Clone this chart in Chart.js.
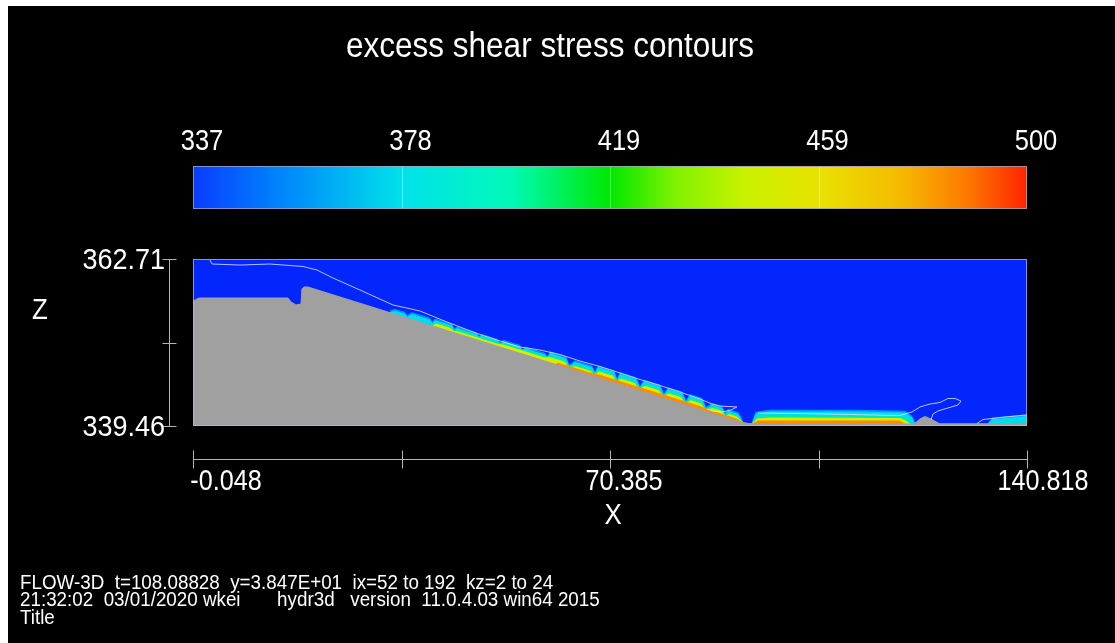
<!DOCTYPE html>
<html>
<head>
<meta charset="utf-8">
<title>excess shear stress contours</title>
<script src="https://cdn.jsdelivr.net/npm/chart.js@4.4.1/dist/chart.umd.min.js"></script>
<style>
  html, body { margin: 0; padding: 0; background: #fff; }
  body { padding: 6px 0 0 8px; width: 1115px; height: 643px; box-sizing: border-box; overflow: hidden; }
  #wrap { width: 1107px; height: 637px; background: #000; }
  canvas { display: block; }
</style>
</head>
<body>
<div id="wrap"><canvas id="chart" width="1107" height="637"></canvas></div>
<script>
// Axis ranges and tick labels
const xRange = [-0.048, 140.818];
const zRange = [339.46, 362.71];
const xTicks = [-0.048, 35.1685, 70.385, 105.6015, 140.818];
const xTickLabels = ["-0.048", "", "70.385", "", "140.818"];
const zTicks = [339.46, 351.085, 362.71];
const zTickLabels = ["339.46", "", "362.71"];
const cbarRange = [337, 500];
const cbarTicks = [337, 377.75, 418.5, 459.25, 500];
const cbarLabels = ["337", "378", "419", "459", "500"];

// Bed profile (solid obstacle)
const bedX = [-0.048, -0.048, 0.97, 16.00, 16.50, 17.35, 18.19, 18.36, 18.70, 19.38, 92.85, 93.52, 94.37, 121.73, 122.74, 123.58, 124.60, 126.12, 140.82];
const bedZ = [339.46, 356.86, 357.28, 357.28, 356.72, 356.31, 356.44, 358.53, 358.81, 358.81, 339.88, 339.60, 339.74, 339.74, 340.43, 340.78, 340.43, 339.74, 339.74];

// Contour band edges along the spillway face and tailwater bed
const cyanX = [33.23, 34.07, 35.76, 36.10, 36.94, 39.98, 40.32, 40.83, 43.70, 44.04, 44.54, 47.92, 48.26, 48.60, 51.47, 51.81, 52.31, 55.18, 55.52, 56.03, 59.41, 59.74, 60.25, 62.95, 63.46, 64.47, 67.34, 67.85, 68.36, 71.06, 71.57, 72.07, 74.77, 75.45, 76.12, 78.83, 79.50, 80.18, 82.55, 83.22, 83.89, 85.92, 86.60, 87.61, 89.30, 89.81, 90.31, 92.00, 92.51, 92.85, 93.36, 94.37, 95.04, 97.41, 110.92, 120.21, 121.39, 121.90, 134.23, 134.90, 140.82];
// ~340-355 (light blue fringe)
const fringeZ = [355.50, 355.69, 355.26, 354.82, 355.23, 354.45, 353.87, 354.37, 353.63, 352.92, 353.27, 352.41, 351.82, 352.23, 351.49, 350.92, 351.40, 350.67, 349.96, 350.46, 349.58, 348.87, 349.79, 349.08, 347.91, 348.55, 347.81, 346.84, 347.83, 347.13, 345.89, 346.88, 346.18, 344.90, 345.84, 345.14, 343.86, 344.79, 344.18, 342.90, 343.83, 343.30, 342.02, 342.59, 342.16, 341.19, 341.76, 341.32, 340.63, 339.88, 339.60, 339.74, 341.38, 341.66, 341.66, 341.52, 340.82, 339.74, 339.74, 340.55, 341.03];
// ~360-390
const cyanZ = [355.25, 355.44, 355.01, 354.57, 354.98, 354.20, 353.62, 354.12, 353.38, 352.67, 353.02, 352.16, 351.57, 351.98, 351.24, 350.67, 351.15, 350.42, 349.71, 350.21, 349.33, 348.62, 349.54, 348.83, 347.66, 348.30, 347.56, 346.59, 347.58, 346.88, 345.64, 346.63, 345.93, 344.65, 345.59, 344.89, 343.61, 344.54, 343.93, 342.65, 343.58, 343.05, 341.77, 342.34, 341.91, 340.94, 341.51, 341.07, 340.38, 339.88, 339.60, 339.74, 341.13, 341.41, 341.41, 341.27, 340.57, 339.74, 339.74, 340.30, 340.78];

const yellowX = [40.49, 41.00, 43.53, 43.87, 44.71, 47.75, 48.76, 51.30, 52.48, 55.01, 56.19, 59.24, 60.42, 62.78, 63.29, 64.64, 67.17, 67.68, 68.53, 70.89, 71.40, 72.24, 74.61, 75.28, 76.29, 78.66, 79.33, 80.35, 82.38, 83.05, 84.06, 85.75, 86.43, 87.78, 89.13, 89.98, 90.48, 91.83, 92.85, 94.37, 95.21, 97.41, 119.36, 120.38, 121.05];
// ~400-420
const greenZ = [353.61, 353.86, 353.21, 352.84, 352.76, 351.98, 351.72, 351.06, 350.90, 350.24, 349.95, 349.15, 349.14, 348.53, 347.83, 347.90, 347.25, 346.70, 347.18, 346.57, 345.74, 346.18, 345.56, 344.74, 345.19, 344.57, 343.70, 344.14, 343.61, 342.75, 343.18, 342.75, 341.87, 342.08, 341.73, 340.95, 341.25, 340.90, 339.88, 339.74, 340.63, 340.77, 340.70, 340.36, 339.74];
// ~430-460
const yellowZ = [353.41, 353.66, 353.01, 352.64, 352.56, 351.78, 351.52, 350.86, 350.70, 350.04, 349.75, 348.95, 348.94, 348.33, 347.63, 347.70, 347.05, 346.50, 346.98, 346.37, 345.54, 345.98, 345.36, 344.54, 344.99, 344.37, 343.50, 343.94, 343.41, 342.55, 342.98, 342.55, 341.67, 341.88, 341.53, 340.75, 341.05, 340.70, 339.88, 339.74, 340.43, 340.57, 340.50, 340.16, 339.74];

// ~470-500
const orangeX = [61.26, 61.60, 62.78, 64.81, 67.00, 68.69, 70.72, 72.41, 74.44, 76.46, 78.49, 80.52, 82.21, 84.23, 85.58, 87.95, 88.96, 90.65, 91.66, 92.85, 94.37, 95.38, 119.36, 120.21];
const orangeZ = [348.02, 348.20, 347.91, 347.38, 346.81, 346.52, 346.00, 345.56, 345.04, 344.53, 344.00, 343.47, 343.04, 342.52, 342.17, 341.42, 341.16, 340.73, 340.46, 339.88, 339.74, 340.16, 340.16, 339.74];

// Free-surface outline pieces
const surfaceX = [2.82, 3.16, 7.89, 12.96, 18.53, 20.89, 23.60, 28.16, 33.73, 38.29, 42.85, 47.92, 51.30, 55.18, 58.56, 61.94, 65.31, 68.69, 72.07, 75.45, 78.83, 82.21, 85.58, 87.61, 88.96, 91.83, 90.82, 89.30, 87.61, 86.77];
const surfaceZ = [362.57, 362.01, 361.87, 362.01, 361.67, 361.18, 360.06, 358.39, 356.31, 355.47, 353.94, 352.34, 351.43, 350.46, 350.04, 349.41, 348.51, 347.74, 346.84, 345.93, 345.10, 344.19, 343.22, 342.52, 342.24, 342.11, 341.69, 341.41, 341.55, 341.83];
const tailX = [95.38, 102.47, 110.92, 119.36, 121.39, 122.74, 124.43, 126.12, 127.47, 128.65, 129.67, 129.16, 127.47, 125.78, 124.94, 124.60];
const tailZ = [341.27, 341.20, 341.06, 340.92, 341.41, 342.11, 342.52, 342.73, 343.29, 343.29, 342.94, 342.38, 341.97, 341.55, 341.13, 340.30];
const outletX = [132.37, 133.38, 137.10, 140.82];
const outletZ = [339.81, 340.36, 340.71, 340.99];

const footerLines = [
    "FLOW-3D  t=108.08828  y=3.847E+01  ix=52 to 192  kz=2 to 24",
    "21:32:02  03/01/2020 wkei       hydr3d   version  11.0.4.03 win64 2015",
    "Title"
];

const FONT = '"Liberation Sans", Arial, Helvetica, sans-serif';
const WATER = "#0226fb";
const BED = "#a0a0a0";
const AXIS = "#b4b4b4";

function pts(xs, zs) {
    return xs.map((x, i) => ({ x: x, y: zs[i] }));
}

function band(xs, zs, color) {
    return {
        data: pts(xs, zs),
        showLine: true,
        fill: "start",
        backgroundColor: color,
        borderColor: color,
        borderWidth: 1,
        pointRadius: 0,
        tension: 0
    };
}

function outline(xs, zs) {
    return {
        data: pts(xs, zs),
        showLine: true,
        fill: false,
        borderColor: "rgba(215,220,255,0.85)",
        borderWidth: 1,
        pointRadius: 0,
        tension: 0
    };
}

// narrow lettering: Liberation Sans squeezed horizontally
function label(ctx, str, x, y, size, align, squeeze) {
    ctx.save();
    ctx.font = size + "px " + FONT;
    ctx.textAlign = align;
    ctx.textBaseline = "middle";
    ctx.translate(x, y);
    ctx.scale(squeeze, 1);
    ctx.fillText(str, 0, 0);
    ctx.restore();
}

// Title, colour bar, axes and run info drawn around the plot area
const frame = {
    id: "frame",
    beforeDatasetsDraw(chart) {
        const { ctx, chartArea: a } = chart;
        ctx.save();
        ctx.fillStyle = WATER;
        ctx.fillRect(a.left, a.top, a.right - a.left, a.bottom - a.top);
        ctx.restore();
    },
    afterDraw(chart) {
        const { ctx, chartArea: a } = chart;
        const xs = chart.scales.x, ys = chart.scales.y, cs = chart.scales.cbar;
        ctx.save();

        // plot border
        ctx.strokeStyle = "rgba(190,190,210,0.7)";
        ctx.lineWidth = 1;
        ctx.strokeRect(a.left + 0.5, a.top + 0.5, a.right - a.left - 1, a.bottom - a.top - 1);

        ctx.fillStyle = "#fff";
        label(ctx, "excess shear stress contours", 542, 41, 35, "center", 0.9);

        // colour bar
        const c0 = cs.getPixelForValue(cbarRange[0]);
        const c1 = cs.getPixelForValue(cbarRange[1]);
        const barTop = 160, barH = 43;
        const g = ctx.createLinearGradient(c0, 0, c1, 0);
        g.addColorStop(0.00, "rgb(10,60,255)");
        g.addColorStop(0.10, "rgb(0,130,252)");
        g.addColorStop(0.25, "rgb(0,225,235)");
        g.addColorStop(0.38, "rgb(0,250,185)");
        g.addColorStop(0.50, "rgb(0,232,0)");
        g.addColorStop(0.58, "rgb(130,242,0)");
        g.addColorStop(0.66, "rgb(200,242,0)");
        g.addColorStop(0.75, "rgb(232,226,0)");
        g.addColorStop(0.85, "rgb(246,185,0)");
        g.addColorStop(0.93, "rgb(252,120,0)");
        g.addColorStop(1.00, "rgb(255,35,0)");
        ctx.fillStyle = g;
        ctx.fillRect(c0, barTop, c1 - c0, barH);
        ctx.strokeStyle = "rgba(255,255,255,0.35)";
        ctx.beginPath();
        cbarTicks.slice(1, -1).forEach(v => {
            const p = Math.round(cs.getPixelForValue(v)) + 0.5;
            ctx.moveTo(p, barTop);
            ctx.lineTo(p, barTop + barH);
        });
        ctx.stroke();
        ctx.strokeStyle = "rgba(160,160,190,0.8)";
        ctx.strokeRect(c0 + 0.5, barTop + 0.5, c1 - c0 - 1, barH - 1);

        ctx.fillStyle = "#fff";
        cbarTicks.forEach((v, i) => {
            label(ctx, cbarLabels[i], cs.getPixelForValue(v) + 9, 136, 29, "center", 0.88);
        });

        // X axis
        const axY = 453.5;
        ctx.strokeStyle = AXIS;
        ctx.beginPath();
        ctx.moveTo(xs.getPixelForValue(xTicks[0]), axY);
        ctx.lineTo(xs.getPixelForValue(xTicks[xTicks.length - 1]), axY);
        xTicks.forEach(v => {
            const p = Math.round(xs.getPixelForValue(v)) + 0.5;
            ctx.moveTo(p, axY - 9);
            ctx.lineTo(p, axY + 9);
        });
        ctx.stroke();
        const xShift = [33, 0, 14, 0, 16];
        xTicks.forEach((v, i) => {
            if (xTickLabels[i]) label(ctx, xTickLabels[i], xs.getPixelForValue(v) + xShift[i], 476, 30, "center", 0.84);
        });
        label(ctx, "X", 605, 510, 30, "center", 0.86);

        // Z axis
        const axX = 161.5;
        ctx.beginPath();
        ctx.moveTo(axX, ys.getPixelForValue(zTicks[0]));
        ctx.lineTo(axX, ys.getPixelForValue(zTicks[zTicks.length - 1]));
        zTicks.forEach(v => {
            const p = Math.round(ys.getPixelForValue(v)) + 0.5;
            ctx.moveTo(axX - 7, p);
            ctx.lineTo(axX + 7, p);
        });
        ctx.stroke();
        zTicks.forEach((v, i) => {
            if (zTickLabels[i]) label(ctx, zTickLabels[i], 157, ys.getPixelForValue(v) + 2, 30, "right", 0.9);
        });
        label(ctx, "Z", 32, 305, 30, "center", 0.86);

        // run info
        footerLines.forEach((t, i) => label(ctx, t, 12, 577 + i * 17.5, 20, "left", 0.94));

        ctx.restore();
    }
};

new Chart(document.getElementById("chart"), {
    type: "scatter",
    data: {
        datasets: [
            outline(surfaceX, surfaceZ),
            outline(tailX, tailZ),
            outline(outletX, outletZ),
            band(bedX, bedZ, BED),
            band(orangeX, orangeZ, "rgb(255,140,0)"),
            band(yellowX, yellowZ, "rgb(215,236,0)"),
            band(yellowX, greenZ, "rgb(0,240,150)"),
            band(cyanX, cyanZ, "rgb(0,220,238)"),
            band(cyanX, fringeZ, "rgb(0,150,255)")
        ]
    },
    options: {
        responsive: false,
        animation: false,
        layout: { padding: { left: 185, right: 88, top: 253, bottom: 217 } },
        plugins: { legend: { display: false }, tooltip: { enabled: false } },
        scales: {
            x: { type: "linear", min: xRange[0], max: xRange[1], display: false },
            y: { type: "linear", min: zRange[0], max: zRange[1], display: false },
            cbar: { type: "linear", axis: "x", min: cbarRange[0], max: cbarRange[1], display: false }
        }
    },
    plugins: [frame]
});
</script>
</body>
</html>
